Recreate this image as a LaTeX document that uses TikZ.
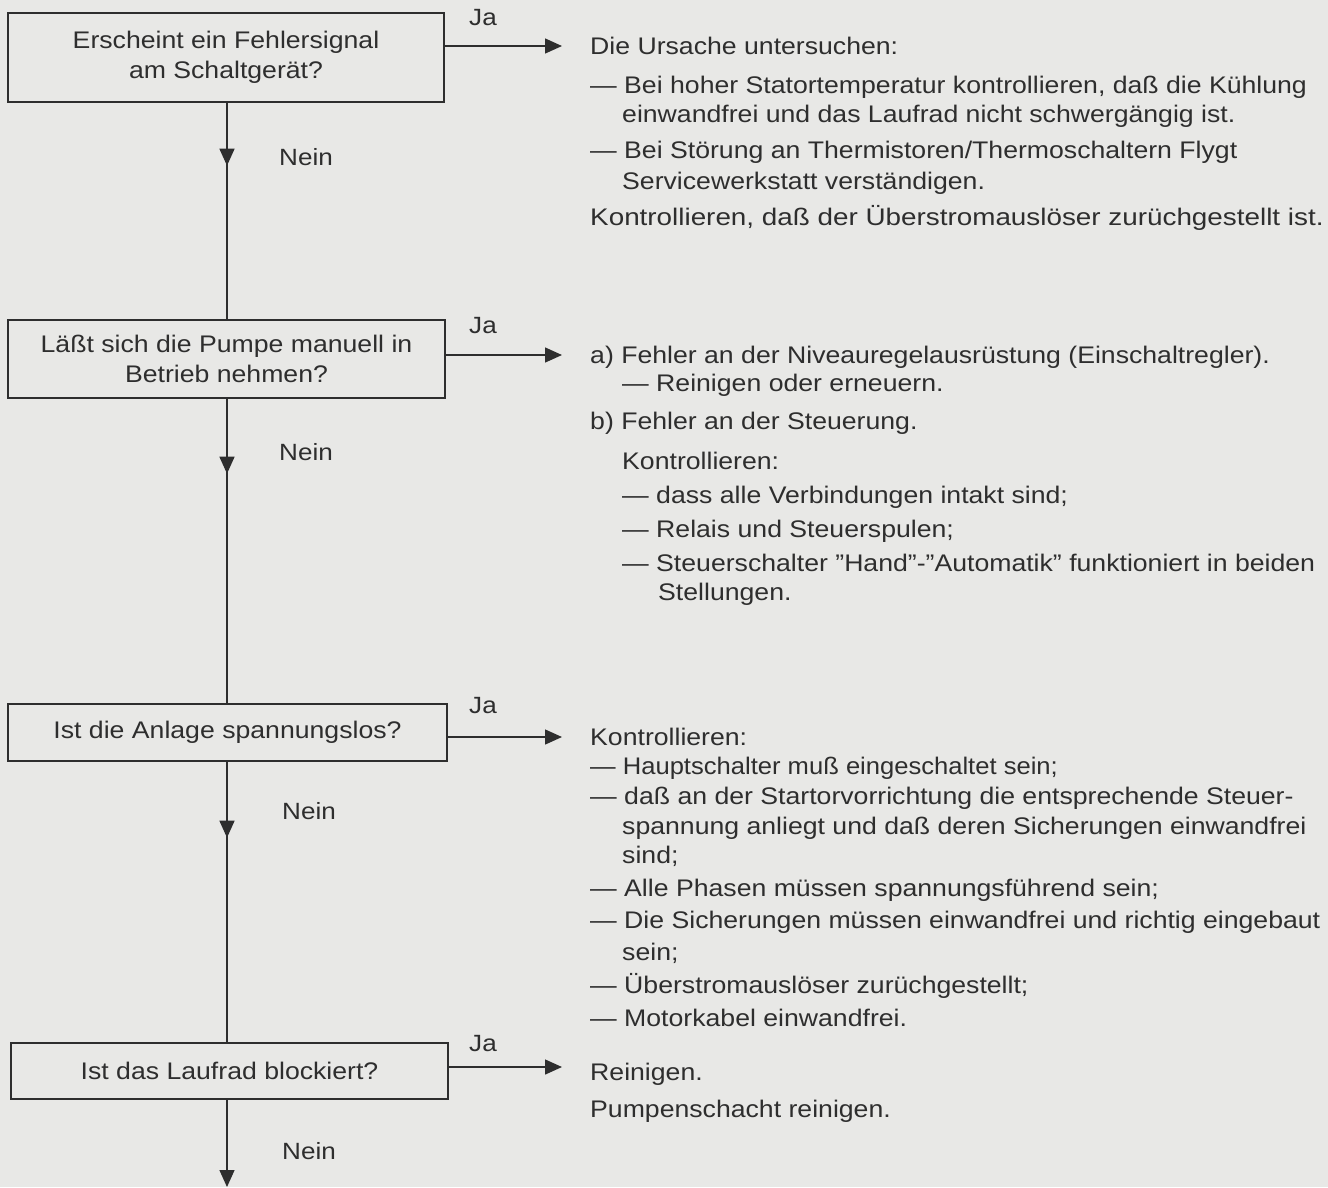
\documentclass[tikz,border=0pt]{standalone}
\usepackage{fontspec}
\setmainfont[FakeStretch=1.11]{Liberation Sans}
\usetikzlibrary{arrows.meta,decorations.markings}
\definecolor{paper}{HTML}{E8E8E6}
\definecolor{ink}{HTML}{2E2E2E}
\tikzset{
  qbox/.style={draw=ink, line width=1.4pt, inner sep=0pt, align=center, text=ink,
    font=\fontsize{24}{30}\selectfont},
  txt/.style={anchor=west, inner sep=0pt, text=ink, text height=17.2pt, text depth=0pt,
    font=\fontsize{24}{28}\selectfont},
  lbl/.style={anchor=center, inner sep=0pt, text=ink, font=\fontsize{23.5}{26}\selectfont},
  conn/.style={draw=ink, line width=1.4pt},
  harr/.style={conn, -{Triangle[width=15pt,length=17pt]}},
  midarr/.style={conn, postaction={decorate}, decoration={markings,
    mark=at position #1 with {\arrow{Triangle[width=15pt,length=17pt]}}}},
}
\begin{document}
\begin{tikzpicture}[x=1pt,y=-1pt]
\fill[paper] (0,0) rectangle (1328,1187);
\useasboundingbox (0,0) rectangle (1328,1187);

% question boxes
\node[qbox, minimum width=436pt, minimum height=89pt] (b1) at (226,57.5) {Erscheint ein Fehlersignal\\am Schaltgerät?};
\node[qbox, minimum width=437pt, minimum height=78pt] (b2) at (226.5,359) {Läßt sich die Pumpe manuell in\\Betrieb nehmen?};
\node[qbox, minimum width=439pt, minimum height=57pt] (b3) at (227.5,732.5) {Ist die Anlage spannungslos?};
\node[qbox, minimum width=437pt, minimum height=56pt] (b4) at (229.5,1071) {Ist das Laufrad blockiert?};
\coordinate (end) at (227,1187);

% labels
\node[lbl] (ja1) at (483,18) {Ja};
\node[lbl] (ja2) at (483,326) {Ja};
\node[lbl] (ja3) at (483,706) {Ja};
\node[lbl] (ja4) at (483,1044) {Ja};
\node[lbl] (ne1) at (306,157) {Nein};
\node[lbl] (ne2) at (306,452) {Nein};
\node[lbl] (ne3) at (309,811) {Nein};
\node[lbl] (ne4) at (309,1151) {Nein};

% block 1
\node[txt] (t11) at (590,46) {Die Ursache untersuchen:};
\node[txt] (t12) at (590,85) {— Bei hoher Statortemperatur kontrollieren, daß die Kühlung};
\node[txt] (t13) at (622,114) {einwandfrei und das Laufrad nicht schwergängig ist.};
\node[txt] (t14) at (590,150) {— Bei Störung an Thermistoren/Thermoschaltern Flygt};
\node[txt] (t15) at (622,181) {Servicewerkstatt verständigen.};
\node[txt] (t16) at (590,217) {\scalebox{1.045}[1]{Kontrollieren, daß der Überstromauslöser zurüchgestellt ist.}};

% block 2
\node[txt] (t21) at (590,355) {a) Fehler an der Niveauregelausrüstung (Einschaltregler).};
\node[txt] (t22) at (622,383) {— Reinigen oder erneuern.};
\node[txt] (t23) at (590,421) {b) Fehler an der Steuerung.};
\node[txt] (t24) at (622,461) {Kontrollieren:};
\node[txt] (t25) at (622,495) {— dass alle Verbindungen intakt sind;};
\node[txt] (t26) at (622,529) {— Relais und Steuerspulen;};
\node[txt] (t27) at (622,563) {— Steuerschalter ”Hand”-”Automatik” funktioniert in beiden};
\node[txt] (t28) at (658,592) {Stellungen.};

% block 3
\node[txt] (t31) at (590,737) {Kontrollieren:};
\node[txt] (t32) at (590,766) {\scalebox{0.96}[1]{— Hauptschalter muß eingeschaltet sein;}};
\node[txt] (t33) at (590,796) {— daß an der Startorvorrichtung die entsprechende Steuer-};
\node[txt] (t34) at (622,826) {spannung anliegt und daß deren Sicherungen einwandfrei};
\node[txt] (t35) at (622,855) {sind;};
\node[txt] (t36) at (590,888) {— Alle Phasen müssen spannungsführend sein;};
\node[txt] (t37) at (590,920) {— Die Sicherungen müssen einwandfrei und richtig eingebaut};
\node[txt] (t38) at (622,952) {sein;};
\node[txt] (t39) at (590,985) {— Überstromauslöser zurüchgestellt;};
\node[txt] (t310) at (590,1018) {— Motorkabel einwandfrei.};

% block 4
\node[txt] (t41) at (590,1072) {Reinigen.};
\node[txt] (t42) at (590,1109) {Pumpenschacht reinigen.};

% Ja connectors
\draw[harr] (b1.east |- t11.west) -- ([xshift=-28pt]t11.west);
\draw[harr] (b2.east |- t21.west) -- ([xshift=-28pt]t21.west);
\draw[harr] (b3.east |- t31.west) -- ([xshift=-28pt]t31.west);
\draw[harr] ([yshift=4pt]b4.east) -- ([xshift=-28pt,yshift=4pt]b4.east -| t41.west);

% Nein connectors
\draw[midarr=63pt] (b1.south -| end) -- (b2.north -| end);
\draw[midarr=75pt] (b2.south -| end) -- (b3.north -| end);
\draw[midarr=76pt] (b3.south -| end) -- (b4.north -| end);
\draw[harr] (b4.south -| end) -- (end);
\end{tikzpicture}
\end{document}
